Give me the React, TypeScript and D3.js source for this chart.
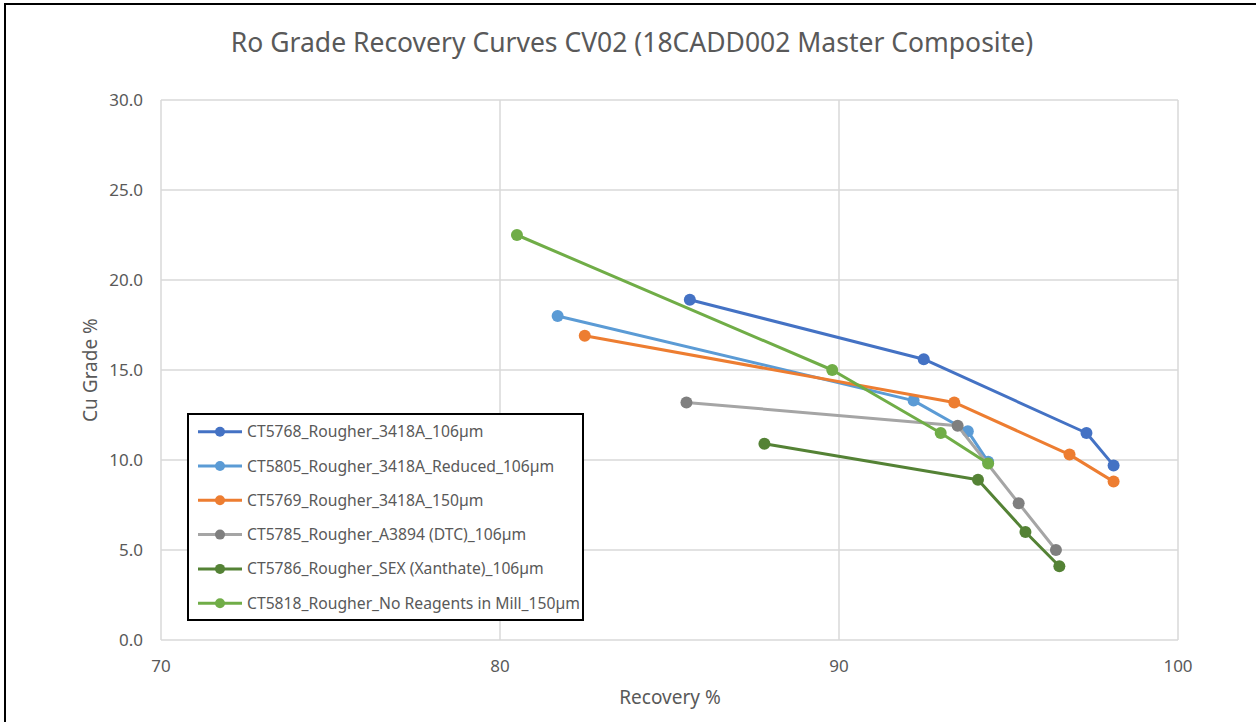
import React, { useRef, useEffect } from "react";
import * as d3 from "d3";

// series names (legend order)
const seriesNames = [
  "CT5768_Rougher_3418A_106µm",
  "CT5805_Rougher_3418A_Reduced_106µm",
  "CT5769_Rougher_3418A_150µm",
  "CT5785_Rougher_A3894 (DTC)_106µm",
  "CT5786_Rougher_SEX (Xanthate)_106µm",
  "CT5818_Rougher_No Reagents in Mill_150µm",
];

// recovery % (x) per series
const recovery = [
  [85.6, 92.5, 97.3, 98.1],
  [81.7, 92.2, 93.8, 94.4],
  [82.5, 93.4, 96.8, 98.1],
  [85.5, 93.5, 95.3, 96.4],
  [87.8, 94.1, 95.5, 96.5],
  [80.5, 89.8, 93.0, 94.4],
];

// Cu grade % (y) per series
const grade = [
  [18.9, 15.6, 11.5, 9.7],
  [18.0, 13.3, 11.6, 9.9],
  [16.9, 13.2, 10.3, 8.8],
  [13.2, 11.9, 7.6, 5.0],
  [10.9, 8.9, 6.0, 4.1],
  [22.5, 15.0, 11.5, 9.8],
];

const lineColors = ["#4472C4", "#5B9BD5", "#ED7D31", "#A5A5A5", "#548235", "#70AD47"];
const markerColors = ["#4472C4", "#5B9BD5", "#ED7D31", "#7F7F7F", "#548235", "#70AD47"];

const xTicks = [70, 80, 90, 100];
const yTicks = [0, 5, 10, 15, 20, 25, 30];

const App = () => {
  const svgRef = useRef(null);

  useEffect(() => {
    const width = 1256;
    const height = 722;
    const plot = { left: 161, right: 1178, top: 100, bottom: 640 };
    const font = "'Noto Sans', 'Open Sans', sans-serif";
    const textColor = "#595959";

    const svg = d3.select(svgRef.current).attr("width", width).attr("height", height);
    svg.selectAll("*").remove();

    svg.append("rect").attr("width", width).attr("height", height).attr("fill", "#fff");

    // chart border (left + top visible)
    svg
      .append("rect")
      .attr("x", 5)
      .attr("y", 4)
      .attr("width", width + 20)
      .attr("height", height + 20)
      .attr("fill", "none")
      .attr("stroke", "#000")
      .attr("stroke-width", 2);

    const x = d3.scaleLinear().domain([70, 100]).range([plot.left, plot.right]);
    const y = d3.scaleLinear().domain([0, 30]).range([plot.bottom, plot.top]);

    // gridlines
    const grid = svg.append("g").attr("stroke", "#D9D9D9").attr("stroke-width", 1.5);
    grid
      .selectAll(".hx")
      .data(yTicks)
      .enter()
      .append("line")
      .attr("x1", plot.left)
      .attr("x2", plot.right)
      .attr("y1", (d) => y(d))
      .attr("y2", (d) => y(d));
    grid
      .selectAll(".vx")
      .data(xTicks)
      .enter()
      .append("line")
      .attr("y1", plot.top)
      .attr("y2", plot.bottom)
      .attr("x1", (d) => x(d))
      .attr("x2", (d) => x(d));

    // tick labels
    svg
      .append("g")
      .selectAll("text")
      .data(yTicks)
      .enter()
      .append("text")
      .attr("x", 143)
      .attr("y", (d) => y(d))
      .attr("dy", "0.35em")
      .attr("text-anchor", "end")
      .style("font-family", font)
      .style("font-size", "17px")
      .attr("fill", textColor)
      .text((d) => d3.format(".1f")(d));

    svg
      .append("g")
      .selectAll("text")
      .data(xTicks)
      .enter()
      .append("text")
      .attr("x", (d) => x(d))
      .attr("y", 666)
      .attr("dy", "0.35em")
      .attr("text-anchor", "middle")
      .style("font-family", font)
      .style("font-size", "17px")
      .attr("fill", textColor)
      .text((d) => d);

    // axis titles
    svg
      .append("text")
      .attr("x", 670)
      .attr("y", 697)
      .attr("dy", "0.35em")
      .attr("text-anchor", "middle")
      .style("font-family", font)
      .style("font-size", "19px")
      .attr("fill", textColor)
      .text("Recovery %");

    svg
      .append("text")
      .attr("transform", `translate(90,${(plot.top + plot.bottom) / 2}) rotate(-90)`)
      .attr("dy", "0.35em")
      .attr("text-anchor", "middle")
      .style("font-family", font)
      .style("font-size", "19px")
      .attr("fill", textColor)
      .text("Cu Grade %");

    // title
    svg
      .append("text")
      .attr("x", 632)
      .attr("y", 52)
      .attr("text-anchor", "middle")
      .style("font-family", font)
      .style("font-size", "26.5px")
      .attr("fill", textColor)
      .text("Ro Grade Recovery Curves CV02 (18CADD002 Master Composite)");

    // series
    const line = d3
      .line()
      .x((d) => x(d[0]))
      .y((d) => y(d[1]));

    seriesNames.forEach((name, i) => {
      const pts = recovery[i].map((r, j) => [r, grade[i][j]]);
      const g = svg.append("g");
      g.append("path")
        .datum(pts)
        .attr("d", line)
        .attr("fill", "none")
        .attr("stroke", lineColors[i])
        .attr("stroke-width", 3)
        .attr("stroke-linejoin", "round");
      g.selectAll("circle")
        .data(pts)
        .enter()
        .append("circle")
        .attr("cx", (d) => x(d[0]))
        .attr("cy", (d) => y(d[1]))
        .attr("r", 6)
        .attr("fill", markerColors[i]);
    });

    // legend
    const legend = svg.append("g");
    legend
      .append("rect")
      .attr("x", 188)
      .attr("y", 414)
      .attr("width", 395)
      .attr("height", 206)
      .attr("fill", "#fff")
      .attr("stroke", "#000")
      .attr("stroke-width", 2);

    const items = legend
      .selectAll(".item")
      .data(seriesNames)
      .enter()
      .append("g")
      .attr("transform", (d, i) => `translate(0,${431.7 + i * 34.3})`);
    items
      .append("line")
      .attr("x1", 198)
      .attr("x2", 242)
      .attr("stroke", (d, i) => lineColors[i])
      .attr("stroke-width", 3);
    items
      .append("circle")
      .attr("cx", 220)
      .attr("r", 5)
      .attr("fill", (d, i) => markerColors[i]);
    items
      .append("text")
      .attr("x", 247)
      .attr("dy", "0.35em")
      .style("font-family", font)
      .style("font-size", "15.7px")
      .attr("fill", textColor)
      .text((d) => d);
  }, []);

  return (
    <svg ref={svgRef} style={{ position: "absolute", left: 0, top: 0, display: "block" }}></svg>
  );
};

export default App;
